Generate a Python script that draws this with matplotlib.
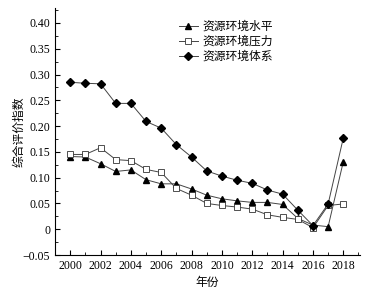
import matplotlib.pyplot as plt
from matplotlib.ticker import MultipleLocator, FuncFormatter

plt.rcParams['font.family'] = ['Liberation Serif', 'Noto Sans CJK SC']

years = list(range(2000, 2019))
shuiping = [0.141, 0.140, 0.127, 0.112, 0.115, 0.096, 0.088, 0.088, 0.078, 0.066,
            0.059, 0.055, 0.052, 0.052, 0.048, 0.021, 0.008, 0.005, 0.131]
yali = [0.145, 0.145, 0.158, 0.135, 0.133, 0.116, 0.110, 0.079, 0.066, 0.050,
        0.046, 0.043, 0.039, 0.028, 0.023, 0.019, 0.003, 0.046, 0.049]
tixi = [0.285, 0.283, 0.282, 0.244, 0.244, 0.209, 0.196, 0.164, 0.140, 0.113,
        0.103, 0.095, 0.089, 0.076, 0.068, 0.037, 0.007, 0.049, 0.177]

fig = plt.figure(figsize=(3.71, 2.93), dpi=100)
ax = fig.add_axes([55/371, 38/293, 305/371, 247/293])

line_kw = dict(color='#444444', linewidth=0.7, markersize=4.5)
ax.plot(years, shuiping, marker='^', markerfacecolor='black', markeredgecolor='black',
        label='资源环境水平', **line_kw)
ax.plot(years, yali, marker='s', markerfacecolor='white', markeredgecolor='#333333',
        markeredgewidth=0.6, label='资源环境压力', **line_kw)
ax.plot(years, tixi, marker='D', markerfacecolor='black', markeredgecolor='black',
        label='资源环境体系', **line_kw)

ax.set_xlim(1999, 2019.1)
ax.set_ylim(-0.05, 0.429)
ax.xaxis.set_major_locator(MultipleLocator(2))
ax.xaxis.set_minor_locator(MultipleLocator(1))
ax.yaxis.set_major_locator(MultipleLocator(0.05))
ax.yaxis.set_minor_locator(MultipleLocator(0.025))

def fmt(v, pos):
    if abs(v) < 1e-9:
        return '0'
    return ('%.2f' % v).replace('-', '\u2212')
ax.yaxis.set_major_formatter(FuncFormatter(fmt))

for s in ['top', 'right']:
    ax.spines[s].set_visible(False)
for s in ['left', 'bottom']:
    ax.spines[s].set_linewidth(0.8)
ax.tick_params(which='major', direction='in', length=3.5, width=0.8, labelsize=8.5)
ax.tick_params(which='minor', direction='in', length=2, width=0.6)

ax.set_xlabel('年份', fontsize=8.5, family=['Noto Sans CJK SC'], labelpad=3)
ax.set_ylabel('综合评价指数', fontsize=8.5, family=['Noto Sans CJK SC'])
ax.yaxis.set_label_coords(-0.098, 0.5)

ax.legend(loc='upper left', bbox_to_anchor=(0.39, 0.97), frameon=False,
          prop={'family': ['Noto Sans CJK SC'], 'size': 8.5},
          handlelength=1.6, handletextpad=0.4, labelspacing=0.15, borderaxespad=0)

fig.savefig('out.png', dpi=100)
